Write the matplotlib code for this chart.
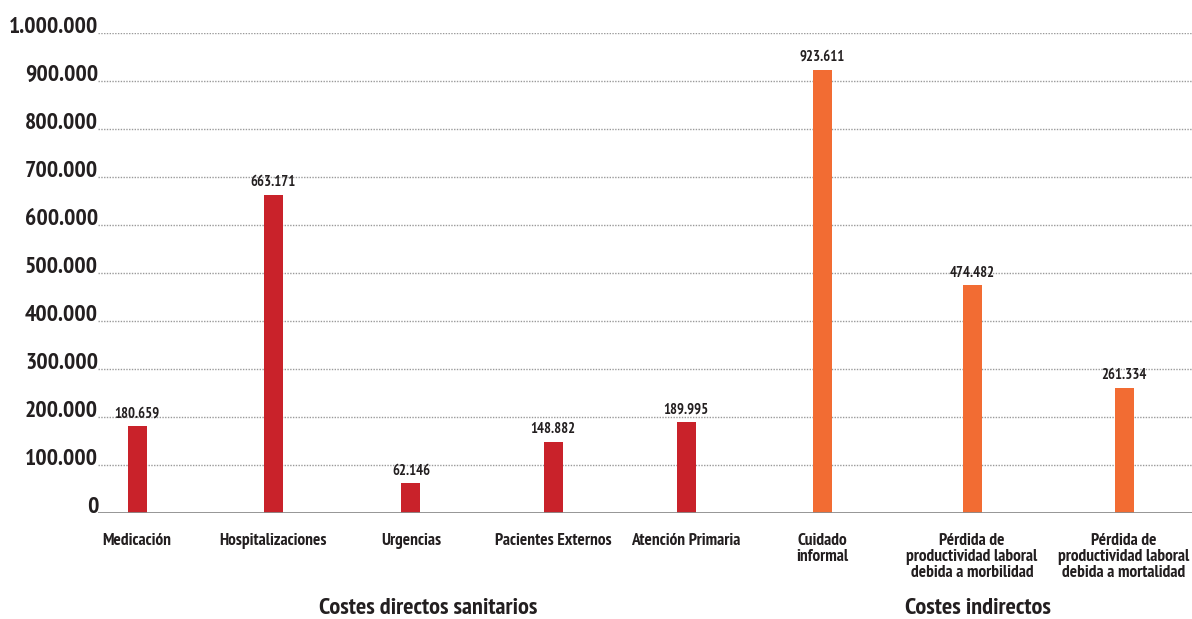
import matplotlib
matplotlib.use("Agg")
import matplotlib.pyplot as plt
from matplotlib.ticker import FixedLocator

# Cost categories (euros) and their group
categories = [
    "Medicación",
    "Hospitalizaciones",
    "Urgencias",
    "Pacientes Externos",
    "Atención Primaria",
    "Cuidado\ninformal",
    "Pérdida de\nproductividad laboral\ndebida a morbilidad",
    "Pérdida de\nproductividad laboral\ndebida a mortalidad",
]
costs = [180659, 663171, 62146, 148882, 189995, 923611, 474482, 261334]
groups = ["direct", "direct", "direct", "direct", "direct",
          "indirect", "indirect", "indirect"]
group_titles = {"direct": "Costes directos sanitarios", "indirect": "Costes indirectos"}
y_ticks = [0, 100000, 200000, 300000, 400000, 500000, 600000, 700000, 800000, 900000, 1000000]

# Layout
W, H, DPI = 1192, 619, 100
slot_x = [0.39, 1.75, 3.13, 4.55, 5.88, 7.24, 8.74, 10.26]
group_x = {"direct": 3.30, "indirect": 8.80}
bar_w = 0.19
colors = {"direct": "#C9222A", "indirect": "#F26C33"}
ink = "#231F20"
FONT = "PT Sans Narrow"


def fmt(v):
    return f"{v:,}".replace(",", ".")


fig = plt.figure(figsize=(W / DPI, H / DPI), dpi=DPI)
ax = fig.add_axes([98 / W, (H - 513) / H, 1 - 98 / W, 480 / H])
ax.set_xlim(0, 10.94)
ax.set_ylim(0, 1000000)

for s in ax.spines.values():
    s.set_visible(False)

# Dotted grid and solid baseline
for t in y_ticks[1:]:
    ax.axhline(t, color="#9A9A9A", lw=1.0, ls=(0, (1, 1)), zorder=0)
ax.axhline(0, color="#8C8C8C", lw=2.0, zorder=3)

bars = ax.bar(slot_x, costs, width=bar_w,
              color=[colors[g] for g in groups], zorder=2)

for x, v in zip(slot_x, costs):
    ax.annotate(fmt(v), (x, v), xytext=(0, 4), textcoords="offset points",
                ha="center", va="bottom", fontsize=10.5, fontweight="bold",
                family=FONT, color=ink)

ax.yaxis.set_major_locator(FixedLocator(y_ticks))
ax.set_yticklabels([fmt(t) for t in y_ticks])
ax.tick_params(axis="y", length=0, pad=0, labelsize=17, labelcolor=ink)
for lbl in ax.get_yticklabels():
    lbl.set_fontfamily(FONT)
    lbl.set_fontweight("bold")
    lbl.set_va("baseline")
ax.set_xticks([])

xt = ax.get_xaxis_transform()
for x, c in zip(slot_x, categories):
    ax.text(x, -20 / 480, c, transform=xt, ha="center", va="top",
            multialignment="center", fontsize=12.5, fontweight="bold",
            family=FONT, color=ink, linespacing=1.0)

for g, title in group_titles.items():
    ax.text(group_x[g], -95 / 480, title, transform=xt, ha="center", va="center",
            fontsize=17.5, fontweight="bold", family=FONT, color=ink)

fig.savefig("out.png", dpi=DPI)
